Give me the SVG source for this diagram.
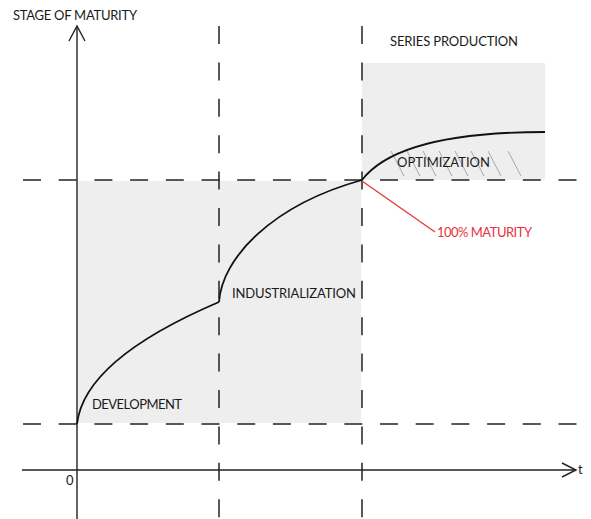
<svg xmlns="http://www.w3.org/2000/svg" width="591" height="519" viewBox="0 0 591 519">
<style>
.bg{fill:#eeeeee}
.ax{stroke:#222;stroke-width:1.4;fill:none}
.dh{stroke:#222;stroke-width:1.5;fill:none;stroke-dasharray:18 17.7}
.dv{stroke:#222;stroke-width:1.5;fill:none;stroke-dasharray:18 18.4}
.cv{stroke:#111;stroke-width:1.8;fill:none}
.ht{stroke:#8a8a8a;stroke-width:0.7}
.lb{font-family:Lato,"Liberation Sans",sans-serif;font-size:13px;fill:#1a1a1a}
.rd{fill:#e8323c}
</style>
<g id="regions">
<rect class="bg" x="78" y="181" width="283" height="242"/>
<rect class="bg" x="362" y="63" width="183" height="117"/>
</g>
<g id="hatch">
<line class="ht" x1="391" y1="151" x2="404" y2="176"/>
<line class="ht" x1="407" y1="151" x2="420" y2="176"/>
<line class="ht" x1="423" y1="151" x2="436" y2="176"/>
<line class="ht" x1="439" y1="151" x2="452" y2="176"/>
<line class="ht" x1="455" y1="151" x2="468" y2="176"/>
<line class="ht" x1="471" y1="151" x2="484" y2="176"/>
<line class="ht" x1="488" y1="151" x2="501" y2="176"/>
<line class="ht" x1="508" y1="151" x2="521" y2="176"/>
</g>
<g id="connectors">
<line class="dh" x1="23" y1="180" x2="580" y2="180"/>
<line class="dh" x1="23" y1="424" x2="580" y2="424"/>
<line class="dv" x1="219" y1="26" x2="219" y2="519"/>
<line class="dv" x1="362" y1="26" x2="362" y2="519"/>
<line class="ax" x1="77" y1="519" x2="77" y2="27"/>
<polyline class="ax" points="69,41 77,26 85,41"/>
<line class="ax" x1="22" y1="470" x2="576" y2="470"/>
<polyline class="ax" points="562,463 576,470 562,477"/>
<path class="cv" d="M77,424 C82,380 130,340 219,302"/>
<path class="cv" d="M219,302 C222,258 272,205 362,180"/>
<path class="cv" d="M362,180 C385,150 440,132 545,132"/>
<line x1="362" y1="181" x2="435" y2="232" stroke="#e8323c" stroke-width="1.3"/>
</g>
<g id="labels">
<text class="lb" x="13" y="20" textLength="124">STAGE OF MATURITY</text>
<text class="lb" x="390" y="46" textLength="128">SERIES PRODUCTION</text>
<text class="lb" x="397" y="167" textLength="93">OPTIMIZATION</text>
<text class="lb" x="232" y="298" textLength="124">INDUSTRIALIZATION</text>
<text class="lb" x="92" y="409" textLength="90">DEVELOPMENT</text>
<text class="lb rd" x="437" y="237" textLength="95">100% MATURITY</text>
<text class="lb" x="66" y="485" font-size="11">0</text>
<text class="lb" x="578" y="474" font-size="11">t</text>
</g>
</svg>
